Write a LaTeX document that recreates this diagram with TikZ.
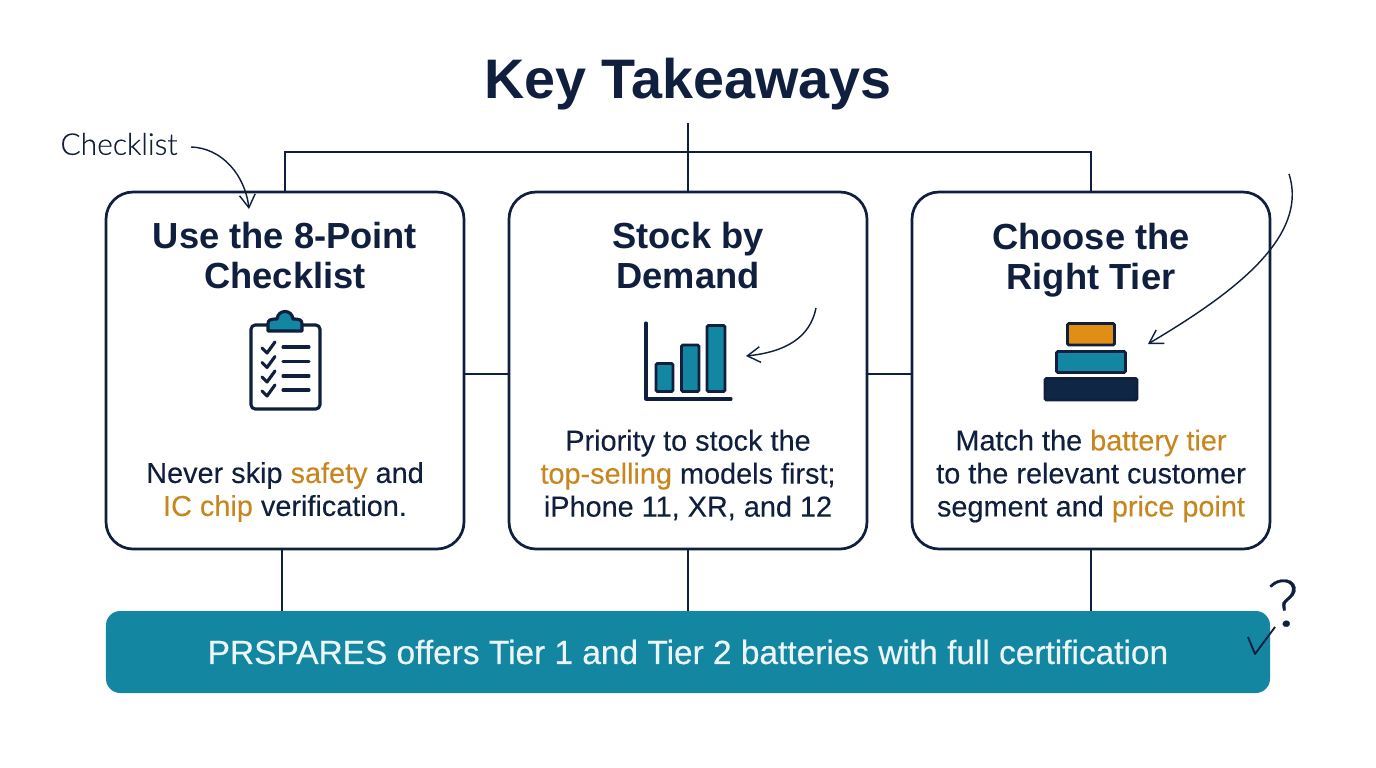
\documentclass[tikz,border=0pt]{standalone}
\usepackage{fontspec}
\setmainfont{Liberation Sans}
\newfontfamily\handfont[FakeBold=0.3]{Lato Light}
\newfontfamily\bodyfont[FakeBold=0.15]{Liberation Sans}
\newfontfamily\bannerfont[FakeBold=0.45]{Liberation Sans}
\usetikzlibrary{arrows.meta}
\definecolor{navy}{HTML}{0F1F3D}
\definecolor{teal}{HTML}{1386A2}
\definecolor{amber}{HTML}{C8861E}
\definecolor{iconamber}{HTML}{E08E14}
\newcommand{\hl}[1]{\textcolor{amber}{#1}}
\tikzset{
  cardbox/.style={draw=navy,line width=1.9pt,rounded corners=19pt,fill=white,minimum width=250.6pt,minimum height=249.9pt,outer sep=0pt},
  bannerbox/.style={fill=teal,rounded corners=10pt,minimum width=814.8pt,minimum height=57.4pt,outer sep=0pt,text=white!92!teal,font=\bannerfont\fontsize{23.4}{28}\selectfont},
  headtext/.style={align=center,text=navy,font=\fontsize{25.4}{28}\selectfont\bfseries},
  bodytext/.style={align=center,text=navy,font=\bodyfont\fontsize{20.2}{23.1}\selectfont},
  wire/.style={draw=navy,line width=1.6pt},
  handarrow/.style={draw=navy,line width=1pt,-{Straight Barb[length=9pt,width=11pt]}},
  iconline/.style={draw=navy,line width=2.2pt,line cap=round,line join=round},
  iconbar/.style={draw=navy,line width=2pt,rounded corners=1pt,fill=teal},
}
\begin{document}
\begin{tikzpicture}[x=0.7pt,y=0.7pt,yscale=-1,xscale=1]
\useasboundingbox (0,0) rectangle (1376,768);
%Title
\node[text=navy,font=\fontsize{39}{44}\selectfont\bfseries] (title) at (688,84) {Key Takeaways};
\coordinate (titlefoot) at (688,123);
%Connectors
\coordinate (busleft) at (285,152);
\coordinate (busright) at (1091,152);
%Cards
\node[cardbox] (usecard) at (285,370.5) {};
\node[cardbox] (stockcard) at (688,370.5) {};
\node[cardbox] (tiercard) at (1091,370.5) {};
\node[bannerbox] (banner) at (688,652) {PRSPARES offers Tier 1 and Tier 2 batteries with full certification};
\draw[wire] (usecard.north) -- (busleft) -- (busright) -- (tiercard.north);
\draw[wire] (titlefoot) -- (stockcard.north);
\draw[wire] (usecard.east |- 0,374) -- (stockcard.west |- 0,374);
\draw[wire] (stockcard.east |- 0,374) -- (tiercard.west |- 0,374);
\draw[wire] (282,549) -- (282,611);
\draw[wire] (stockcard.south) -- (stockcard.south |- banner.north);
\draw[wire] (tiercard.south) -- (tiercard.south |- banner.north);
%Card text
\node[headtext] (usehead) at (285,256) {Use the 8-Point\\Checklist};
\node[headtext] (stockhead) at (688,256) {Stock by\\Demand};
\node[headtext] (tierhead) at (1091,260) {Choose the\\Right Tier};
\node[bodytext] (usebody) at (285,492) {Never skip \hl{safety} and\\\hl{IC chip} verification.};
\node[bodytext] (stockbody) at (688,475) {Priority to stock the\\\hl{top-selling} models first;\\iPhone 11, XR, and 12};
\node[bodytext] (tierbody) at (1091,476) {Match the \hl{battery tier}\\to the relevant customer\\segment and \hl{price point}};
%Clipboard icon
\draw[iconline,fill=white,rounded corners=3pt] (251,325) rectangle (320,409);
\draw[iconline,fill=teal] (268,331) -- (268,324) .. controls (268,320) and (270,319) .. (277,319) .. controls (278,309) and (292,309) .. (293,319) .. controls (300,319) and (302,320) .. (302,324) -- (302,331) -- cycle;
\foreach \y in {348,362.5,377,391}{
  \draw[iconline] (262,\y) -- (267,\y+5) -- (275,\y-6);
  \draw[iconline] (283,\y-1) -- (309,\y-1);
}
%Chart icon
\draw[iconbar] (656,363.5) rectangle (673,391.5);
\draw[iconbar] (681.5,345) rectangle (699,391.5);
\draw[iconbar] (707,325.5) rectangle (725,391.5);
\draw[iconline] (646,323) -- (646,399) -- (731,399);
%Stack icon
\draw[iconbar,fill=iconamber] (1067.5,323.5) rectangle (1114.5,345);
\draw[iconbar] (1056.5,351.5) rectangle (1125.5,372.5);
\draw[iconbar,fill=navy!92!teal] (1045,378.5) rectangle (1137,400);
%Hand notes
\node[text=navy,font=\handfont\fontsize{21}{24}\selectfont] (checknote) at (119,144) {Checklist};
\coordinate (checkfrom) at (191,147);
\coordinate (checkto) at (249,209);
\draw[handarrow] (checkfrom) .. controls (222,148) and (245,175) .. (checkto);
\coordinate (chartfrom) at (816,308);
\coordinate (chartto) at (746,356);
\draw[handarrow] (chartfrom) .. controls (810,338) and (785,352) .. (chartto);
\coordinate (tierfrom) at (1289,174);
\coordinate (tierto) at (1148,344);
\draw[handarrow] (tierfrom) .. controls (1310,240) and (1225,298) .. (tierto);
\draw[draw=navy,line width=1.3pt,line join=round] (1248,637) -- (1255,654) -- (1275,627);
\node[text=navy,font=\handfont\fontsize{46}{46}\selectfont,rotate=8,xscale=1.15] (askmark) at (1285,603) {?};
\end{tikzpicture}
\end{document}
